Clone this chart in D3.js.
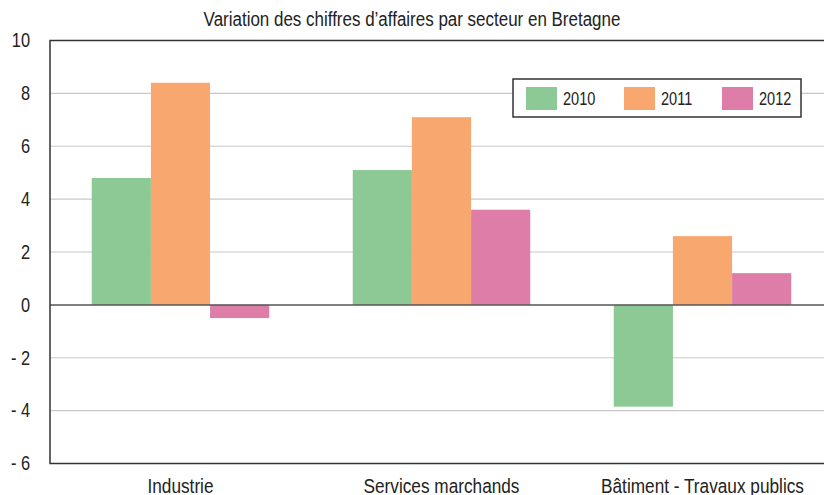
<!DOCTYPE html>
<html lang="fr">
<head>
<meta charset="UTF-8">
<title>Variation des chiffres d'affaires</title>
<script src="https://cdn.jsdelivr.net/npm/d3@7"></script>
<style>
  body { margin: 0; background: #fff; }
  text { font-family: "Liberation Sans", Arial, sans-serif; fill: #222; }
</style>
</head>
<body>
<svg id="chart" width="824" height="495"></svg>
<script>
// data
const sectors = ["Industrie", "Services marchands", "Bâtiment - Travaux publics"]
const years = ["2010", "2011", "2012"]
const v2010 = [4.8, 5.1, -3.85]
const v2011 = [8.4, 7.1, 2.6]
const v2012 = [-0.5, 3.6, 1.2]
const yTicks = [-6, -4, -2, 0, 2, 4, 6, 8, 10]
const colors = ["#8cc994", "#f8a86f", "#de7ea8"]

const series = [v2010, v2011, v2012]

const svg = d3.select('#chart')
const mLeft = 50, mRight = 833, mTop = 40.5, mBottom = 463.5

// narrow the glyphs a bit, the original uses a condensed face
function condense(sel, k) {
    sel.each(function () {
        const w = this.getComputedTextLength()
        d3.select(this).attr('textLength', w * k).attr('lengthAdjust', 'spacingAndGlyphs')
    })
}

const x = d3.scaleBand().domain(sectors).range([mLeft, mRight]).paddingInner(0.32).paddingOuter(0.16)
const xi = d3.scaleBand().domain(years).range([0, x.bandwidth()])
const y = d3.scaleLinear().domain([-6, 10]).range([mBottom, mTop])

// gridlines
svg.append('g')
    .selectAll('line')
    .data(yTicks.filter(d => d != 0 && d != -6 && d != 10))
    .join('line')
    .attr('x1', mLeft).attr('x2', mRight)
    .attr('y1', d => y(d)).attr('y2', d => y(d))
    .attr('stroke', '#c8c8c8').attr('stroke-width', 1.2)

// bars
sectors.forEach((s, i) => {
    series.forEach((vals, j) => {
        const v = vals[i]
        svg.append('rect')
            .attr('x', x(s) + xi(years[j]))
            .attr('width', xi.bandwidth())
            .attr('y', y(Math.max(0, v)))
            .attr('height', Math.abs(y(v) - y(0)))
            .attr('fill', colors[j])
    })
})

// zero line
svg.append('line')
    .attr('x1', mLeft).attr('x2', mRight)
    .attr('y1', y(0)).attr('y2', y(0))
    .attr('stroke', '#555').attr('stroke-width', 1.5)

// frame
svg.append('path')
    .attr('d', `M${mRight},${mTop}H${mLeft}V${mBottom}H${mRight}`)
    .attr('fill', 'none').attr('stroke', '#333').attr('stroke-width', 1.5)

// y axis labels
const yAxis = d3.axisLeft(y).tickValues(yTicks).tickSize(0).tickPadding(20)
    .tickFormat(d => d < 0 ? '- ' + Math.abs(d) : d)
const ya = svg.append('g').attr('transform', `translate(${mLeft},0)`).call(yAxis)
ya.select('.domain').remove()
ya.selectAll('text').style('font-size', '19.5px').style('font-family', '"Liberation Sans", Arial, sans-serif').attr('fill', '#222')
condense(ya.selectAll('text'), 0.84)

// x labels
const xl = svg.append('g')
    .selectAll('text')
    .data(sectors)
    .join('text')
    .attr('x', d => x(d) + x.bandwidth() / 2)
    .attr('y', 493)
    .attr('text-anchor', 'middle')
    .style('font-size', '20.5px')
    .text(d => d)
condense(xl, 0.84)

// title
const title = svg.append('text')
    .attr('x', 412).attr('y', 26)
    .attr('text-anchor', 'middle')
    .style('font-size', '19.5px')
    .text('Variation des chiffres d’affaires par secteur en Bretagne')
condense(title, 0.87)

// legend
const lg = svg.append('g').attr('transform', 'translate(513,79)')
lg.append('rect')
    .attr('width', 288).attr('height', 38)
    .attr('fill', '#fff').attr('stroke', '#333').attr('stroke-width', 1.5)
years.forEach((yr, j) => {
    const gx = 13 + j * 98
    lg.append('rect').attr('x', gx).attr('y', 8).attr('width', 31).attr('height', 23).attr('fill', colors[j])
    const t = lg.append('text').attr('x', gx + 37).attr('y', 26).style('font-size', '17.5px').text(yr)
    condense(t, 0.83)
})
</script>
</body>
</html>
